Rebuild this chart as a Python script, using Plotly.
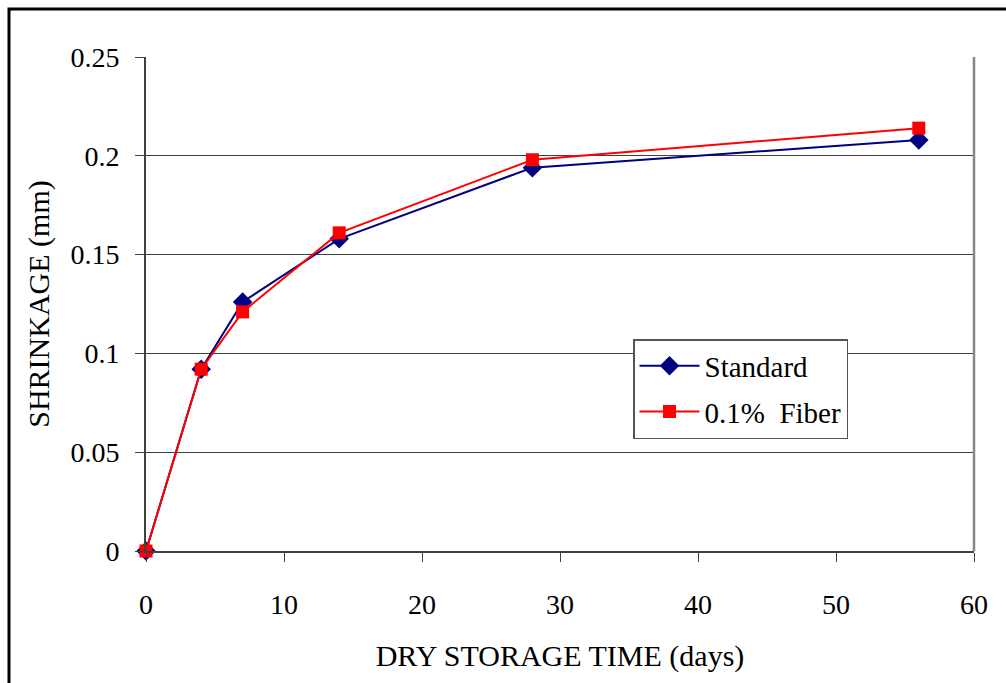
import plotly.graph_objects as go

days = [0, 4, 7, 14, 28, 56]
standard = [0.0, 0.092, 0.126, 0.158, 0.194, 0.208]
fiber = [0.0, 0.092, 0.121, 0.161, 0.198, 0.214]
x_ticks = [0, 10, 20, 30, 40, 50, 60]
y_ticks = [0, 0.05, 0.1, 0.15, 0.2, 0.25]
y_tick_text = ["0", "0.05", "0.1", "0.15", "0.2", "0.25"]

FONT = "Times New Roman, Liberation Serif, DejaVu Serif, serif"

fig = go.Figure()
fig.add_trace(go.Scatter(
    x=days, y=standard, name="Standard", mode="lines+markers",
    line=dict(color="#000080", width=2),
    marker=dict(symbol="diamond", size=15, color="#000080"),
    cliponaxis=False, legendgroup="a",
))
fig.add_trace(go.Scatter(
    x=days, y=fiber, name="0.1%  Fiber", mode="lines+markers",
    line=dict(color="#FF0000", width=2),
    marker=dict(symbol="square", size=13, color="#FF0000"),
    cliponaxis=False, legendgroup="b",
))

L, R, T, B = 146, 32, 57, 132
W, H = 1006, 683
pw, ph = W - L - R, H - T - B

fig.update_layout(
    width=W, height=H,
    margin=dict(l=L, r=R, t=T, b=B),
    paper_bgcolor="white", plot_bgcolor="white",
    font=dict(family=FONT, size=28, color="black"),
    showlegend=True,
    legend=dict(
        x=(633 - L) / pw, y=(H - B - 339) / ph, xanchor="left", yanchor="top",
        bordercolor="#555555", borderwidth=1.5, bgcolor="white",
        font=dict(family=FONT, size=29),
        itemwidth=60, tracegroupgap=5,
    ),
    xaxis=dict(
        range=[0, 60], tickvals=x_ticks, ticks="outside", ticklen=9,
        tickcolor="#404040", linecolor="#404040", linewidth=2, showline=True,
        showgrid=False, zeroline=False, ticklabelstandoff=18,
        tickfont=dict(family=FONT, size=28),
        title=dict(text="DRY STORAGE TIME (days)", standoff=26,
                   font=dict(family=FONT, size=30)),
        mirror=False,
    ),
    yaxis=dict(
        range=[0, 0.25], tickvals=y_ticks, ticktext=y_tick_text,
        ticks="outside", ticklen=9, tickcolor="#404040",
        linecolor="#404040", linewidth=2, showline=True,
        showgrid=True, gridcolor="#404040", gridwidth=1, zeroline=False,
        ticklabelstandoff=10,
        tickfont=dict(family=FONT, size=28),
        title=dict(text="SHRINKAGE (mm)", standoff=12,
                   font=dict(family=FONT, size=30)),
    ),
    shapes=[
        dict(type="line", xref="paper", yref="paper", x0=1, x1=1, y0=0, y1=1,
             line=dict(color="#888888", width=2.5)),
        dict(type="rect", xref="paper", yref="paper",
             x0=(9 - L) / pw, x1=(W + 10 - L) / pw,
             y0=(H - B - (H + 10)) / ph, y1=(H - B - 9) / ph,
             line=dict(color="black", width=3), fillcolor="rgba(0,0,0,0)",
             layer="below"),
    ],
)

fig.write_html("out.html")
